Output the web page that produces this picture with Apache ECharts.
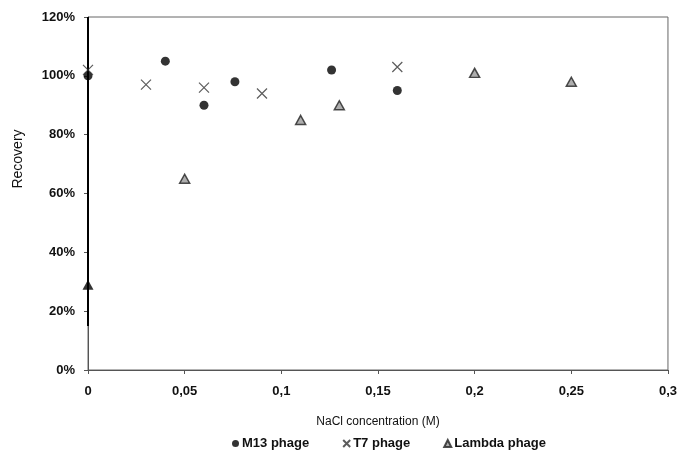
<!DOCTYPE html>
<html>
<head>
<meta charset="utf-8">
<script src="https://cdn.jsdelivr.net/npm/echarts@6/dist/echarts.min.js"></script>
<style>
  html, body { margin: 0; padding: 0; background: #fff; }
  #chart { width: 680px; height: 460px; }
</style>
</head>
<body>
<div id="chart"></div>
<script>
// NaCl concentration (M) and recovery (%) per phage
const m13X = [0, 0.04, 0.06, 0.076, 0.126, 0.16];
const m13Y = [100, 105, 90, 98, 102, 95];
const t7X = [0, 0.03, 0.06, 0.09, 0.16];
const t7Y = [102, 97, 96, 94, 103];
const lambdaX = [0.05, 0.11, 0.13, 0.2, 0.25];
const lambdaY = [65, 85, 90, 101, 98];
// reference point at zero salt and its vertical range
const refX = [0];
const refY = [29];
const refRangeY = [15, 120];

const xTicks = [0, 0.05, 0.1, 0.15, 0.2, 0.25, 0.3];
const yTicks = [0, 20, 40, 60, 80, 100, 120];

const pairs = (xs, ys) => xs.map((x, i) => [x, ys[i]]);
const FONT = 'Liberation Sans, Arial, sans-serif';
const crossPath = 'path://M0,0L10,10M10,0L0,10';

const chart = echarts.init(document.getElementById('chart'));
chart.setOption({
  backgroundColor: '#fff',
  animation: false,
  textStyle: { fontFamily: FONT },
  grid: {
    left: 88, right: 11, top: 17, bottom: 90,
    show: true, borderColor: '#666', borderWidth: 1
  },
  xAxis: {
    type: 'value',
    min: xTicks[0], max: xTicks[xTicks.length - 1], interval: 0.05,
    name: 'NaCl concentration (M)',
    nameLocation: 'middle', nameGap: 46,
    nameTextStyle: { fontSize: 12, color: '#111', fontFamily: FONT },
    axisLine: { lineStyle: { color: '#555', width: 1 } },
    axisTick: { show: true, inside: false, length: 4, lineStyle: { color: '#555' } },
    splitLine: { show: false },
    axisLabel: {
      fontSize: 13, fontWeight: 'bold', color: '#111', margin: 15, fontFamily: FONT,
      formatter: v => String(+v.toFixed(2)).replace('.', ',')
    }
  },
  yAxis: {
    type: 'value',
    min: yTicks[0], max: yTicks[yTicks.length - 1], interval: 20,
    axisLine: { show: true, lineStyle: { color: '#555', width: 1 } },
    axisTick: { show: true, inside: false, length: 4, lineStyle: { color: '#555' } },
    splitLine: { show: false },
    axisLabel: {
      fontSize: 13, fontWeight: 'bold', color: '#111', margin: 13, fontFamily: FONT,
      formatter: v => v + '%'
    }
  },
  graphic: [{
    type: 'text',
    x: 18, y: 159,
    rotation: Math.PI / 2,
    style: {
      text: 'Recovery', fontSize: 14, fontFamily: FONT, fill: '#111',
      textAlign: 'center', textVerticalAlign: 'middle'
    }
  }],
  legend: {
    data: ['M13 phage', 'T7 phage', 'Lambda phage'],
    top: 432, left: 227,
    itemWidth: 7, itemHeight: 7, itemGap: 33,
    textStyle: { fontSize: 13, fontWeight: 'bold', color: '#111', fontFamily: FONT, padding: [0, 0, 0, -2] }
  },
  series: [
    {
      name: 'ref-range', type: 'line',
      data: refRangeY.map(y => [refX[0], y]),
      showSymbol: false, symbol: 'none',
      lineStyle: { color: '#000', width: 2 },
      silent: true, z: 3
    },
    {
      name: 'ref-point', type: 'scatter',
      data: pairs(refX, refY),
      symbol: 'triangle', symbolSize: [11, 10],
      itemStyle: { color: '#000' }, z: 4
    },
    {
      name: 'M13 phage', type: 'scatter',
      data: pairs(m13X, m13Y),
      symbol: 'circle', symbolSize: 9,
      itemStyle: { color: '#000' }, z: 5
    },
    {
      name: 'T7 phage', type: 'scatter',
      data: pairs(t7X, t7Y),
      symbol: crossPath, symbolSize: 10,
      itemStyle: { color: 'rgba(0,0,0,0)', borderColor: '#333', borderWidth: 1.2 },
      z: 5
    },
    {
      name: 'Lambda phage', type: 'scatter',
      data: pairs(lambdaX, lambdaY),
      symbol: 'triangle', symbolSize: [10, 9],
      itemStyle: { color: '#9a9a9a', borderColor: '#222', borderWidth: 1.5 },
      z: 5
    }
  ]
});
</script>
</body>
</html>
